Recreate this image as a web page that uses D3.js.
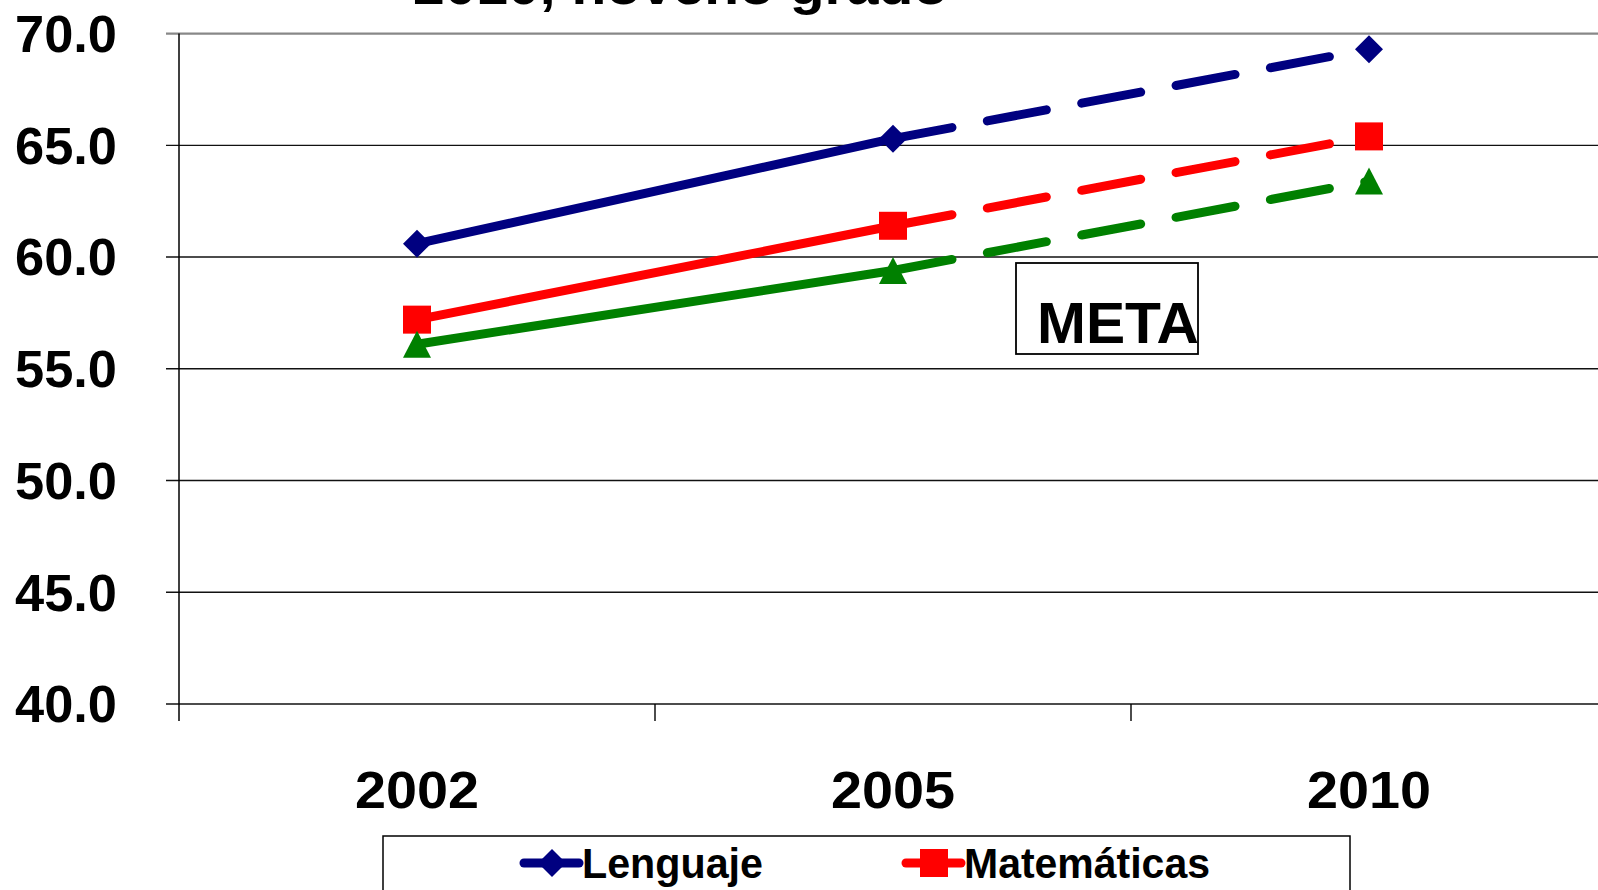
<!DOCTYPE html>
<html>
<head>
<meta charset="utf-8">
<script src="https://cdn.jsdelivr.net/npm/d3@7"></script>
<style>
  html, body { margin: 0; padding: 0; background: #fff; overflow: hidden; }
  text { font-family: "Liberation Sans", Arial, sans-serif; font-weight: bold; fill: #000; }
</style>
</head>
<body>
<div id="chart"></div>
<script>
// data
const years = ["2002", "2005", "2010"];
const lenguaje = [60.6, 65.3, 69.3];
const matematicas = [57.2, 61.4, 65.4];
const ciencias = [56.1, 59.4, 63.4];
const yTicks = [40, 45, 50, 55, 60, 65, 70];
const titleLine = "2010, noveno grado";
const metaLabel = "META";

const series = [
  { name: "Lenguaje", values: lenguaje, color: "#000080", shape: "diamond", legend: true },
  { name: "Matemáticas", values: matematicas, color: "#ff0000", shape: "square", legend: true },
  { name: "Ciencias", values: ciencias, color: "#008000", shape: "triangle", legend: false }
];

const width = 1598, height = 890;
const lineW = 9;
const svg = d3.select("#chart").append("svg")
  .attr("width", width).attr("height", height);

// scales
const x = d3.scaleBand().domain(years).range([179, 1607]).padding(0);
const y = d3.scaleLinear().domain([40, 70]).range([704, 33.6]);
const cx = d => x(d) + x.bandwidth() / 2;

// title (only the bottom of its last line is on the page)
svg.append("text")
  .attr("x", 413).attr("y", 4)
  .attr("font-size", 52)
  .attr("textLength", 535)
  .attr("lengthAdjust", "spacingAndGlyphs")
  .attr("fill", "#222")
  .text(titleLine);

// gridlines
svg.append("g").selectAll("line")
  .data(yTicks)
  .join("line")
  .attr("x1", 166).attr("x2", width)
  .attr("y1", d => y(d)).attr("y2", d => y(d))
  .attr("stroke", d => d === 70 ? "#888" : "#111")
  .attr("stroke-width", d => d === 70 ? 2.2 : 1.4);

// y axis line
svg.append("line")
  .attr("x1", 179).attr("x2", 179)
  .attr("y1", y(70)).attr("y2", 721)
  .attr("stroke", "#000").attr("stroke-width", 1.5);

// x tick marks at band edges
svg.append("g").selectAll("line")
  .data(years.slice(1))
  .join("line")
  .attr("x1", d => x(d)).attr("x2", d => x(d))
  .attr("y1", y(40)).attr("y2", 721)
  .attr("stroke", "#000").attr("stroke-width", 1.4);

// y labels
svg.append("g").selectAll("text")
  .data(yTicks)
  .join("text")
  .attr("x", 117)
  .attr("y", d => y(d))
  .attr("dy", "0.36em")
  .attr("text-anchor", "end")
  .attr("font-size", 51)
  .attr("textLength", 102)
  .attr("lengthAdjust", "spacingAndGlyphs")
  .text(d => d.toFixed(1));

// x labels
svg.append("g").selectAll("text")
  .data(years)
  .join("text")
  .attr("x", d => cx(d))
  .attr("y", 808)
  .attr("text-anchor", "middle")
  .attr("font-size", 52)
  .attr("textLength", 124)
  .attr("lengthAdjust", "spacingAndGlyphs")
  .text(d => d);

// META box
svg.append("rect")
  .attr("x", 1016).attr("y", 263)
  .attr("width", 182).attr("height", 91)
  .attr("fill", "none").attr("stroke", "#000").attr("stroke-width", 1.8);
svg.append("text")
  .attr("x", 1037).attr("y", 343)
  .attr("font-size", 58)
  .attr("textLength", 162)
  .attr("lengthAdjust", "spacingAndGlyphs")
  .text(metaLabel);

function markerPath(shape) {
  if (shape === "diamond") return "M0,-14L14,0L0,14L-14,0Z";
  if (shape === "square") return "M-14,-14H14V14H-14Z";
  return "M0,-13.5L14,13.5H-14Z";
}

const line = d3.line().x(d => cx(d.year)).y(d => y(d.value));

series.forEach(s => {
  const pts = years.map((yr, i) => ({ year: yr, value: s.values[i] }));
  const g = svg.append("g");
  // measured part
  g.append("path")
    .attr("d", line(pts.slice(0, 2)))
    .attr("fill", "none")
    .attr("stroke", s.color)
    .attr("stroke-width", lineW)
    .attr("stroke-linecap", "round");
  // target part
  g.append("path")
    .attr("d", line(pts.slice(1)))
    .attr("fill", "none")
    .attr("stroke", s.color)
    .attr("stroke-width", lineW)
    .attr("stroke-linecap", "round")
    .attr("stroke-dasharray", "60,36");
  g.selectAll("path.mk")
    .data(pts)
    .join("path")
    .attr("class", "mk")
    .attr("transform", d => `translate(${cx(d.year)},${y(d.value)})`)
    .attr("d", markerPath(s.shape))
    .attr("fill", s.color);
});

// legend
svg.append("rect")
  .attr("x", 383).attr("y", 836)
  .attr("width", 967).attr("height", 120)
  .attr("fill", "none").attr("stroke", "#000").attr("stroke-width", 1.5);

const legendX = [524, 906];
const legendItems = series.filter(s => s.legend);
const lg = svg.append("g").selectAll("g")
  .data(legendItems)
  .join("g")
  .attr("transform", (d, i) => `translate(${legendX[i]},863)`);
lg.append("line")
  .attr("x1", 0).attr("x2", 55)
  .attr("stroke", d => d.color)
  .attr("stroke-width", lineW)
  .attr("stroke-linecap", "round");
lg.append("path")
  .attr("transform", "translate(28,0)")
  .attr("d", d => markerPath(d.shape))
  .attr("fill", d => d.color);
lg.append("text")
  .attr("x", 58)
  .attr("y", 15)
  .attr("font-size", 43)
  .attr("textLength", d => d.name === "Lenguaje" ? 181 : 246)
  .attr("lengthAdjust", "spacingAndGlyphs")
  .text(d => d.name);
</script>
</body>
</html>
